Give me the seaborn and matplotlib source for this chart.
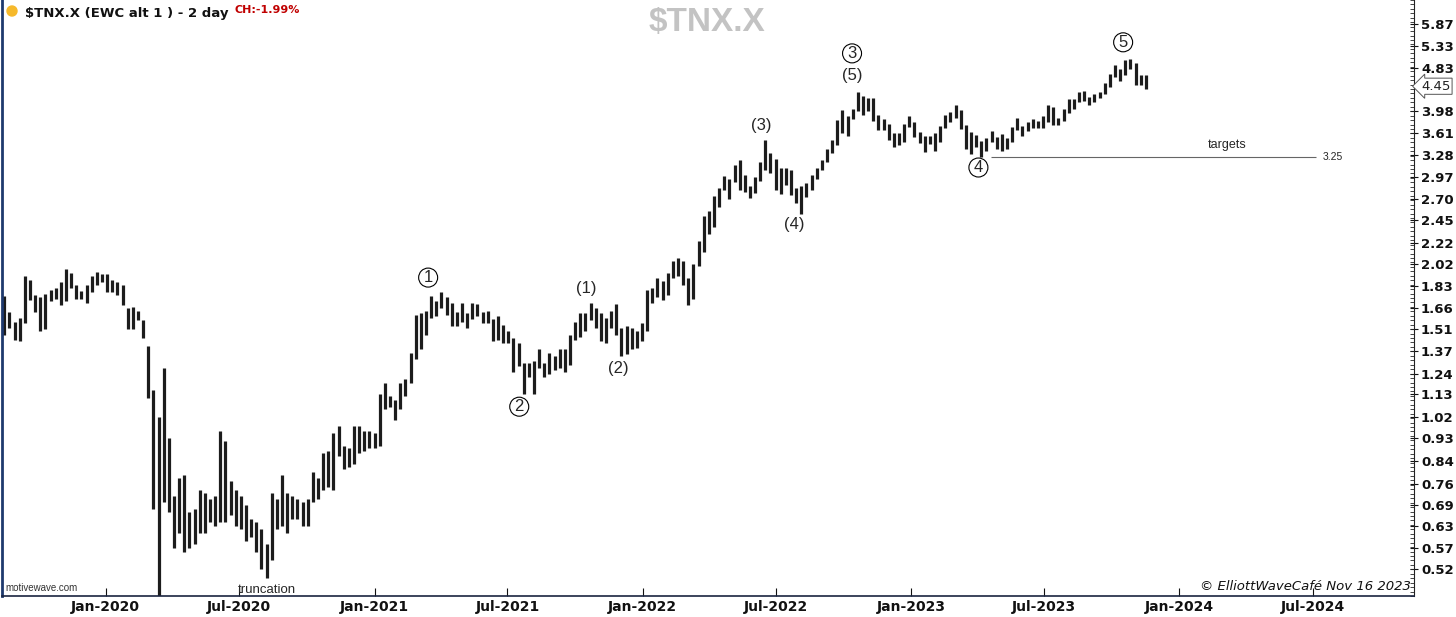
import matplotlib
matplotlib.use("Agg")
import matplotlib.pyplot as plt
import matplotlib.dates as mdates
import matplotlib.ticker as mticker
from matplotlib.patches import Ellipse
import seaborn as sns
import numpy as np
import pandas as pd

sns.set_theme(style="white")
plt.rcParams['font.family'] = ['DejaVu Sans']

# weekly high / low (yield in %), Fridays from 2019-08-16
high_2019 = [1.75, 1.63, 1.56, 1.59, 1.91, 1.88, 1.76, 1.74, 1.77, 1.80,
             1.81, 1.86, 1.97, 1.94, 1.84, 1.79, 1.84, 1.91, 1.95, 1.93]
low_2019 = [1.47, 1.52, 1.44, 1.43, 1.55, 1.72, 1.63, 1.50, 1.51, 1.71,
            1.73, 1.68, 1.71, 1.81, 1.73, 1.73, 1.70, 1.78, 1.84, 1.86]

high_2020 = [1.93, 1.88, 1.86, 1.84, 1.66, 1.67, 1.64, 1.57, 1.40, 1.15,
             1.02, 1.27, 0.93, 0.72, 0.78, 0.79, 0.67, 0.68, 0.74, 0.73,
             0.71, 0.72, 0.96, 0.92, 0.77, 0.74, 0.72, 0.69, 0.65, 0.64,
             0.62, 0.58, 0.73, 0.71, 0.79, 0.73, 0.72, 0.71, 0.70, 0.71,
             0.80, 0.78, 0.87, 0.88, 0.95, 0.98, 0.90, 0.89, 0.98, 0.98,
             0.96, 0.96]
low_2020 = [1.78, 1.78, 1.76, 1.68, 1.51, 1.51, 1.57, 1.45, 1.11, 0.68,
            0.40, 0.70, 0.67, 0.57, 0.61, 0.56, 0.57, 0.58, 0.61, 0.61,
            0.64, 0.63, 0.64, 0.64, 0.66, 0.63, 0.62, 0.59, 0.60, 0.56,
            0.52, 0.50, 0.54, 0.62, 0.63, 0.61, 0.65, 0.65, 0.63, 0.63,
            0.70, 0.71, 0.74, 0.75, 0.74, 0.86, 0.81, 0.82, 0.83, 0.87,
            0.88, 0.89]

high_2021 = [0.95, 1.13, 1.19, 1.12, 1.10, 1.19, 1.21, 1.36, 1.61, 1.62,
             1.64, 1.75, 1.71, 1.78, 1.74, 1.70, 1.63, 1.70, 1.62, 1.70,
             1.69, 1.63, 1.64, 1.58, 1.60, 1.54, 1.50, 1.45, 1.42, 1.30,
             1.30, 1.31, 1.38, 1.30, 1.36, 1.34, 1.38, 1.38, 1.47, 1.56,
             1.62, 1.62, 1.70, 1.66, 1.62, 1.59, 1.64, 1.69, 1.52, 1.53,
             1.52, 1.50, 1.55]
low_2021 = [0.89, 0.90, 1.06, 1.07, 1.01, 1.06, 1.12, 1.19, 1.32, 1.38,
            1.47, 1.59, 1.60, 1.66, 1.61, 1.53, 1.53, 1.56, 1.52, 1.58,
            1.60, 1.55, 1.55, 1.43, 1.44, 1.42, 1.42, 1.25, 1.28, 1.13,
            1.22, 1.13, 1.27, 1.22, 1.24, 1.26, 1.27, 1.25, 1.29, 1.44,
            1.46, 1.50, 1.57, 1.52, 1.43, 1.42, 1.52, 1.47, 1.34, 1.35,
            1.38, 1.39, 1.43]

high_2022 = [1.80, 1.81, 1.90, 1.87, 1.94, 2.05, 2.07, 2.05, 1.90, 2.02,
             2.24, 2.50, 2.56, 2.73, 2.83, 2.98, 2.94, 3.13, 3.20, 3.00,
             2.86, 2.97, 3.18, 3.50, 3.31, 3.22, 3.10, 3.10, 3.07, 2.83,
             2.86, 2.90, 3.00, 3.10, 3.20, 3.36, 3.50, 3.83, 4.00, 3.89,
             4.02, 4.33, 4.26, 4.23, 4.22, 3.91, 3.85, 3.76, 3.62, 3.62,
             3.76, 3.90]
low_2022 = [1.50, 1.70, 1.74, 1.72, 1.76, 1.90, 1.91, 1.84, 1.68, 1.73,
            2.00, 2.13, 2.31, 2.38, 2.60, 2.81, 2.70, 2.91, 2.81, 2.78,
            2.71, 2.77, 2.92, 3.07, 3.02, 2.80, 2.76, 2.87, 2.74, 2.65,
            2.52, 2.72, 2.80, 2.95, 3.07, 3.18, 3.31, 3.42, 3.61, 3.57,
            3.84, 3.99, 3.92, 3.99, 3.81, 3.67, 3.67, 3.50, 3.40, 3.42,
            3.47, 3.71]

high_2023 = [3.80, 3.63, 3.57, 3.57, 3.62, 3.73, 3.92, 3.97, 4.09, 4.00,
             3.74, 3.63, 3.59, 3.49, 3.54, 3.64, 3.55, 3.60, 3.54, 3.71,
             3.86, 3.73, 3.80, 3.85, 3.81, 3.89, 4.09, 4.05, 3.87, 4.02,
             4.20, 4.20, 4.33, 4.35, 4.24, 4.30, 4.34, 4.51, 4.69, 4.89,
             4.80, 5.00, 5.02, 4.93, 4.67, 4.67]
low_2023 = [3.55, 3.45, 3.32, 3.44, 3.33, 3.47, 3.69, 3.80, 3.87, 3.68,
            3.37, 3.29, 3.40, 3.25, 3.34, 3.48, 3.37, 3.33, 3.37, 3.47,
            3.67, 3.57, 3.64, 3.70, 3.69, 3.70, 3.80, 3.74, 3.74, 3.81,
            3.95, 4.03, 4.15, 4.17, 4.09, 4.14, 4.23, 4.30, 4.44, 4.63,
            4.55, 4.68, 4.80, 4.48, 4.48, 4.40]

y_ticks = [0.52, 0.57, 0.63, 0.69, 0.76, 0.84, 0.93, 1.02, 1.13, 1.24,
           1.37, 1.51, 1.66, 1.83, 2.02, 2.22, 2.45, 2.70, 2.97, 3.28,
           3.61, 3.98, 4.83, 5.33, 5.87]
last_price = 4.45
target = 3.25

# wave labels: text, date, level, circled
waves = [
    ("1", "2021-03-15", 1.90, True),
    ("2", "2021-07-17", 1.07, True),
    ("(1)", "2021-10-16", 1.81, False),
    ("(2)", "2021-11-29", 1.27, False),
    ("(3)", "2022-06-11", 3.74, False),
    ("(4)", "2022-07-26", 2.41, False),
    ("3", "2022-10-13", 5.15, True),
    ("(5)", "2022-10-13", 4.67, False),
    ("4", "2023-04-03", 3.10, True),
    ("5", "2023-10-17", 5.41, True),
]

highs = high_2019 + high_2020 + high_2021 + high_2022 + high_2023
lows = low_2019 + low_2020 + low_2021 + low_2022 + low_2023
df = pd.DataFrame({
    "date": pd.date_range("2019-08-16", periods=len(highs), freq="W-FRI"),
    "high": highs,
    "low": lows,
})

fig = plt.figure(figsize=(14.56, 6.17), dpi=100)
ax = fig.add_axes([0.0014, 0.034, 0.9698, 0.966])

ax.vlines(df["date"], df["low"], df["high"], color="#1c1c1c", lw=2.3)

ax.set_yscale("log")
ax.set_ylim(0.461, 6.53)
ax.set_xlim(pd.Timestamp("2019-08-13"), pd.Timestamp("2024-11-16"))

# right price axis
ax.yaxis.tick_right()
ax.yaxis.set_major_locator(mticker.FixedLocator(y_ticks))
ax.yaxis.set_major_formatter(mticker.StrMethodFormatter("{x:.2f}"))
ax.yaxis.set_minor_locator(mticker.FixedLocator(np.geomspace(0.461, 6.53, 135)))
ax.yaxis.set_minor_formatter(mticker.NullFormatter())
ax.tick_params(axis="y", which="major", direction="inout", length=6, width=0.8,
               labelsize=9.5, pad=2, colors="#111111", right=True, left=False)
ax.tick_params(axis="y", which="minor", direction="in", length=3, width=0.6,
               right=True, left=False)

# time axis
ax.xaxis.set_major_locator(mdates.MonthLocator(bymonth=[1, 7]))
ax.xaxis.set_major_formatter(mdates.DateFormatter("%b-%Y"))
ax.tick_params(axis="x", which="major", direction="in", length=6, width=0.8,
               labelsize=10, pad=3, bottom=True, colors="#111111")
for lbl in ax.get_xticklabels() + ax.get_yticklabels():
    lbl.set_fontweight("bold")

ax.grid(False)
ax.spines["top"].set_visible(False)
ax.spines["left"].set_color("#1f3a6e")
ax.spines["left"].set_linewidth(2)
ax.spines["bottom"].set_color("#1a2440")
ax.spines["bottom"].set_linewidth(1.2)
ax.spines["right"].set_color("#222222")
ax.spines["right"].set_linewidth(0.8)

# wave count labels
for text, day, level, circled in waves:
    box = None
    if circled:
        box = dict(boxstyle="circle,pad=0.12", fc="white", ec="black", lw=0.8)
    ax.text(pd.Timestamp(day), level, text, ha="center", va="center",
            fontsize=12, family="Liberation Sans", bbox=box)

ax.text(pd.Timestamp("2020-08-08"), 0.474, "truncation", ha="center",
        va="center", fontsize=9.5, family="Liberation Sans")

# target line
ax.hlines(target, pd.Timestamp("2023-04-20"), pd.Timestamp("2024-07-05"),
          color="#666666", lw=0.8)
ax.text(pd.Timestamp("2024-03-07"), 3.42, "targets", ha="center", va="center",
        fontsize=9, family="Liberation Sans")
ax.text(pd.Timestamp("2024-07-29"), target, f"{target:.2f}", ha="center",
        va="center", fontsize=7.5, family="Liberation Sans")

# last price box
ax.text(1.005, last_price, f"{last_price:.2f}", transform=ax.get_yaxis_transform(),
        ha="left", va="center", fontsize=9.5, color="#222222", zorder=6,
        bbox=dict(boxstyle="larrow,pad=0.12", fc="white", ec="#555555", lw=0.7))

# header and footer text
fig.add_artist(Ellipse((12 / 1456, 1 - 11 / 617), 10 / 1456, 10 / 617,
                       transform=fig.transFigure, color="#f6b92b"))
fig.text(25 / 1456, 1 - 14 / 617, "$TNX.X (EWC alt 1 ) - 2 day", va="center",
         fontsize=9.5, weight="bold", color="#111111")
fig.text(234 / 1456, 1 - 10 / 617, "CH:-1.99%", va="center", fontsize=8,
         weight="bold", color="#c00000")
fig.text(707 / 1456, 1 - 23 / 617, "$TNX.X", ha="center", va="center",
         fontsize=24, weight="bold", color="#c3c3c3", family="Liberation Sans")
fig.text(5 / 1456, 1 - 588 / 617, "motivewave.com", va="center", fontsize=7,
         color="#333333", family="Liberation Sans")
fig.text(1411 / 1456, 1 - 587 / 617, "© ElliottWaveCafé Nov 16 2023", ha="right",
         va="center", fontsize=9.5, style="italic", color="#111111")

fig.savefig("out.png", dpi=100)
